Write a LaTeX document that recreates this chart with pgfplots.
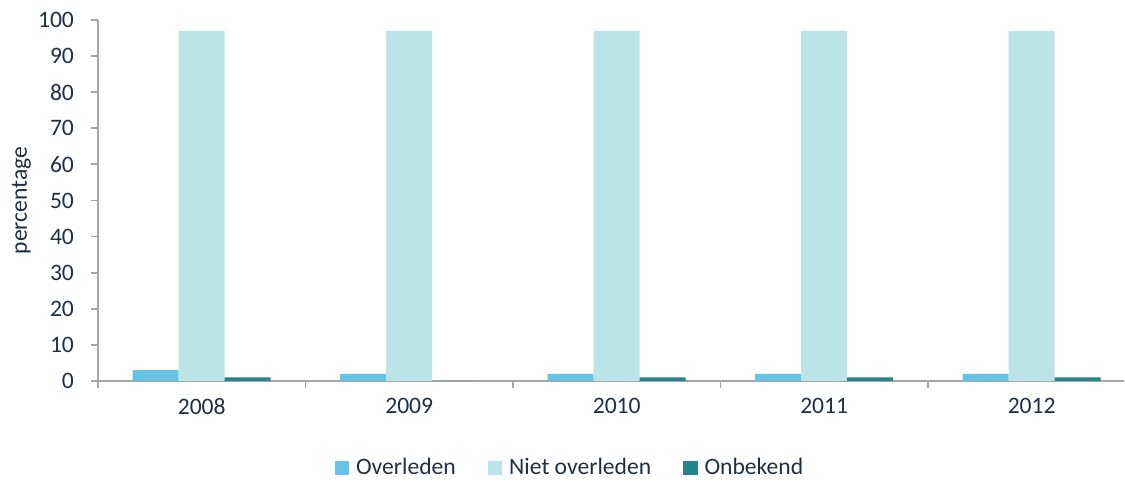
\documentclass[border=0pt]{standalone}
\usepackage{pgfplots}
\pgfplotsset{compat=1.18}
\usepackage{fontspec}
\setmainfont{Carlito}
\definecolor{txt}{HTML}{1F3045}
\definecolor{axgray}{HTML}{A6A6A6}
\definecolor{cA}{HTML}{65C3E6}
\definecolor{cB}{HTML}{BAE4E8}
\definecolor{cC}{HTML}{23868A}
\begin{document}
\begin{tikzpicture}
\begin{axis}[
  at={(0,0)}, anchor=south west,
  scale only axis,
  width=513pt, height=180.5pt,
  xmin=-0.5, xmax=4.445,
  ymin=0, ymax=100,
  ytick={0,10,...,100},
  xtick={-0.5,0.5,1.5,2.5,3.5},
  xticklabels={},
  extra x ticks={0,1,2,3,4},
  extra x tick labels={2008,2009,2010,2011,2012},
  extra x tick style={major tick length=0pt},
  axis x line*=bottom,
  axis y line*=left,
  axis line style={axgray, line width=0.9pt, -},
  tick align=outside,
  major tick length=3.5pt,
  tick style={axgray, line width=0.9pt},
  /pgf/number format/assume math mode=true,
  font=\fontsize{11.8}{13}\selectfont\color{txt},
  ticklabel style={font=\fontsize{11.8}{13}\selectfont, color=txt},
  yticklabel style={xshift=-5pt},
  xticklabel style={yshift=-5pt},
  ylabel={percentage},
  ylabel style={at={(axis description cs:0,0.5)}, anchor=south, yshift=30pt, font=\fontsize{11.8}{13}\selectfont, color=txt},
  ybar=0pt, bar width=23pt,
  legend style={at={(0.461,0)}, anchor=center, yshift=-43.5pt, draw=none, fill=none,
    legend columns=-1, font=\fontsize{11.8}{13}\selectfont, text=txt,
    /tikz/every even column/.append style={column sep=14pt},
    /tikz/every odd column/.append style={column sep=1.5pt}},
  legend image code/.code={\fill[#1] (0pt,-3.6pt) rectangle (7.2pt,3.6pt);},
  clip=false,
]
\addplot[fill=cA, draw=none] coordinates {(0,3) (1,2) (2,2) (3,2) (4,2)};
\addplot[fill=cB, draw=none] coordinates {(0,97) (1,97) (2,97) (3,97) (4,97)};
\addplot[fill=cC, draw=none] coordinates {(0,1) (1,0) (2,1) (3,1) (4,1)};
\legend{Overleden, Niet overleden, Onbekend}
\end{axis}
\pgfresetboundingbox
\path (-49pt,-49.5pt) rectangle (513.5pt,190.5pt);
\end{tikzpicture}
\end{document}
